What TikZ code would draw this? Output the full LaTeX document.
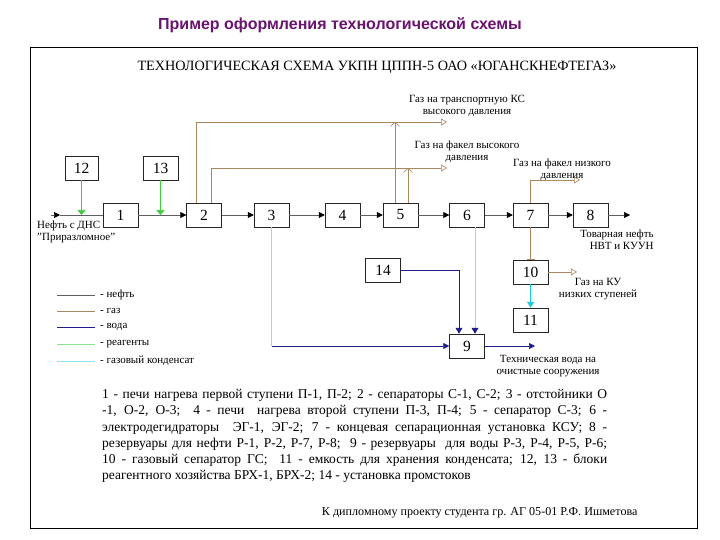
\documentclass[tikz,border=0pt]{standalone}
\usepackage{fontspec}
\setmainfont{Liberation Serif}
\newfontfamily\headfont{Liberation Sans}
\usetikzlibrary{arrows.meta,positioning}
\definecolor{oilcol}{RGB}{95,95,95}
\definecolor{gascol}{RGB}{170,135,95}
\definecolor{watercol}{RGB}{30,30,145}
\definecolor{reagcol}{RGB}{60,205,60}
\definecolor{condcol}{RGB}{20,205,225}
\definecolor{headcol}{RGB}{105,20,110}
\newcommand\jline[1]{\hbox to 505pt{#1}}
\tikzset{
  unit/.style={draw=black!85,line width=.5pt,fill=white,minimum width=35pt,
               minimum height=24pt,inner sep=0pt,font=\fontsize{15.5}{15.5}\selectfont},
  oil/.style={draw=oilcol,line width=.6pt},
  oilarr/.style={oil,-{Triangle[length=6pt,width=6pt,color=black]}},
  gas/.style={draw=gascol,line width=.6pt},
  gasarr/.style={gas,-{Triangle[open,length=6pt,width=7pt]}},
  gasjoin/.style={gas,-{Straight Barb[length=4pt,width=9pt]}},
  gastee/.style={gas,-{Bar[width=8pt]}},
  water/.style={draw=watercol,line width=.7pt},
  waterarr/.style={water,-{Triangle[length=6pt,width=6pt]}},
  faint/.style={draw=black!22,line width=.6pt},
  faintarr/.style={faint,-{Triangle[length=6pt,width=7pt,color=watercol]}},
  reagent/.style={draw=reagcol!60,line width=.6pt},
  reagarr/.style={draw=reagcol,line width=.6pt,-{Triangle[length=5pt,width=8pt]}},
  cond/.style={draw=condcol!50,line width=.6pt},
  condarr/.style={draw=condcol,line width=.8pt,-{Triangle[length=6pt,width=7pt]}},
  lbl/.style={font=\fontsize{11}{12}\selectfont,align=center,inner sep=0pt},
}
\begin{document}
\begin{tikzpicture}[x=1pt,y=-1pt]
  \useasboundingbox[fill=white] (0,0) rectangle (720,540);
  \node[font=\headfont\bfseries\fontsize{16}{16}\selectfont,text=headcol] (head) at (340,25)
    {Пример оформления технологической схемы};
  \draw[line width=.8pt] (30,47) rectangle (697,528);
  \node[font=\fontsize{14.2}{15}\selectfont] (title) at (377,67)
    {ТЕХНОЛОГИЧЕСКАЯ СХЕМА УКПН ЦППН-5 ОАО «ЮГАНСКНЕФТЕГАЗ»};

  \foreach \n/\x in {1/120.5,2/204,3/271.5,4/342.5,5/400.5,6/467,7/530.5,8/590.5}
    \node[unit] (u\n) at (\x,215) {\n};
  \node[unit,minimum width=33pt] (u12) at (81.5,168) {12};
  \node[unit] (u13) at (160.5,168) {13};
  \node[unit] (u10) at (530.5,272) {10};
  \node[unit] (u11) at (530.5,320) {11};
  \node[unit] (u14) at (383,270) {14};
  \node[unit] (u9) at (467,346) {9};

  \coordinate (src) at (51,215);
  \coordinate (srctip) at (60,215);
  \coordinate (prod) at (630,215);
  \draw[oilarr] (src) -- (srctip);
  \draw[oil] (srctip) -- (u1);
  \foreach \a/\b in {1/2,2/3,3/4,4/5,5/6,6/7,7/8}
    \draw[oilarr] (u\a) -- (u\b);
  \draw[oilarr] (u8) -- (prod);
  \draw[reagarr] (u12.south) -- (u12.south |- u1.west);
  \draw[reagarr] (u13.south) -- (u13.south |- u1.west);

  \coordinate (gasKS) at (447,122);
  \coordinate (gasHF) at (447,168);
  \coordinate (gasLF) at (580,180);
  \coordinate (gasKU) at (577,272);
  \coordinate (j5a) at (395,122);
  \coordinate (j5b) at (408,168);
  \draw[gasarr] ([xshift=-8pt]u2.north) |- (gasKS);
  \draw[gasarr] ([xshift=7pt]u2.north) |- (gasHF);
  \draw[gasjoin] ([xshift=-5.5pt]u5.north) -- (j5a);
  \draw[gasjoin] ([xshift=7.5pt]u5.north) -- (j5b);
  \draw[gasarr] (u7.north) |- (gasLF);
  \draw[gastee] (u7.south) -- (u10.north);
  \draw[gasarr] (u10.east) -- (gasKU);
  \draw[condarr] (u10.south) -- (u11.north);

  \coordinate (b3) at (u3.south |- u9.west);
  \coordinate (wout) at (535,346);
  \draw[faint] (u3.south) -- (b3);
  \draw[waterarr] (b3) -- (u9.west);
  \draw[water,-{Triangle[length=6pt,width=7pt]}] (u14.east) -| ([xshift=-8pt]u9.north);
  \draw[faintarr] ([xshift=8pt]u6.south) -- ([xshift=8pt]u9.north);
  \draw[waterarr] (u9.east) -- (wout);

  \node[lbl,anchor=west,align=left] (srclbl) at (37,232) {Нефть с ДНС\\"Приразломное"};
  \node[lbl] (lblKS) at (467,105.5) {Газ на транспортную КС\\высокого давления};
  \node[lbl] (lblHF) at (467,152) {Газ на факел высокого\\давления};
  \node[lbl] (lblLF) at (562,170) {Газ на факел низкого\\давления};
  \node[lbl,align=right] (lblprod) at (617,240) {Товарная нефть\\НВТ и КУУН};
  \node[lbl] (lblKU) at (598,289) {Газ на КУ\\низких ступеней};
  \node[lbl] (lblout) at (548,366.5) {Техническая вода на\\очистные сооружения};

  \foreach \y/\s/\t in {295/oil/нефть,311/gas/газ,327/water/вода,344/reagent/реагенты,
                        361/cond/газовый конденсат}{
    \coordinate (lg\y a) at (57,\y);
    \coordinate (lg\y b) at (95,\y);
    \draw[\s] (lg\y a) -- (lg\y b);
    \node[lbl,anchor=west] (lgt\y) at (100,\y) {- \t};}

  \node[anchor=north west,inner sep=0pt,align=left,
        font=\fontsize{13.5}{16.3}\selectfont] (notes) at (102,389)
    {\jline{1 - печи нагрева первой ступени П-1, П-2; 2 - сепараторы С-1, С-2; 3 - отстойники О}\\
     \jline{-1, О-2, О-3;\ \ 4 - печи\ \ нагрева второй ступени П-3, П-4; 5 - сепаратор С-3; 6 -}\\
     \jline{электродегидраторы\ \ ЭГ-1, ЭГ-2; 7 - концевая сепарационная установка КСУ; 8 -}\\
     \jline{резервуары для нефти Р-1, Р-2, Р-7, Р-8;\ \ 9 - резервуары\ \ для воды Р-3, Р-4, Р-5, Р-6;}\\
     \jline{10 - газовый сепаратор ГС;\ \ 11 - емкость для хранения конденсата; 12, 13 - блоки}\\
     \jline{реагентного хозяйства БРХ-1, БРХ-2; 14 - установка промстоков\hfil}};
  \node[anchor=east,font=\fontsize{12.1}{13}\selectfont] (foot) at (641,513)
    {К дипломному проекту студента гр. АГ 05-01 Р.Ф. Ишметова};
\end{tikzpicture}
\end{document}
